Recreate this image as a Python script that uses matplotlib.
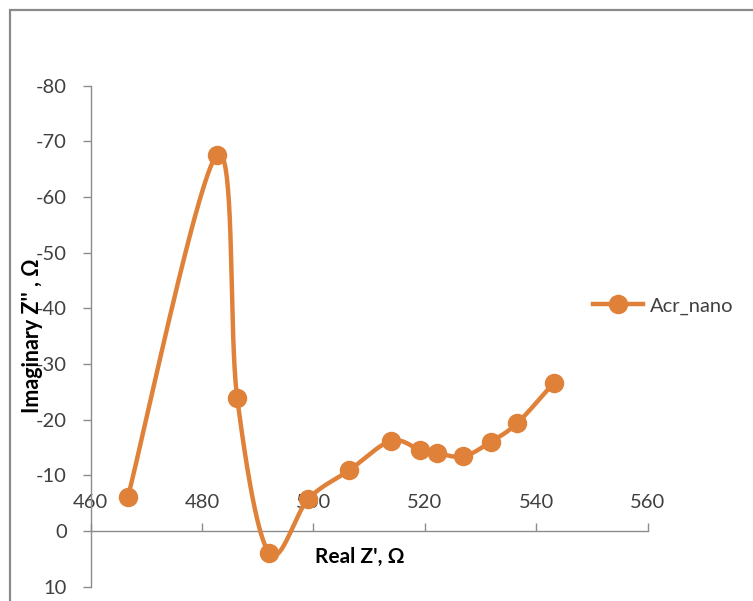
import numpy as np
import matplotlib
matplotlib.use("Agg")
import matplotlib.pyplot as plt
from matplotlib.patches import Rectangle

plt.rcParams['font.family'] = ['Lato', 'DejaVu Sans']
plt.rcParams['axes.unicode_minus'] = False

# Nyquist data (Real Z' vs Imaginary Z'')
real_z = [466.7, 482.7, 486.3, 492.0, 499.1, 506.4, 513.9, 519.1, 522.2, 526.9, 531.8, 536.6, 543.1]
imag_z = [-6.2, -67.6, -23.9, 3.9, -5.8, -10.9, -16.2, -14.6, -14.0, -13.4, -16.0, -19.4, -26.6]
series_name = "Acr_nano"

x_ticks = [460, 480, 500, 520, 540, 560]
y_ticks = [-80, -70, -60, -50, -40, -30, -20, -10, 0, 10]

orange = '#DF8139'
text_col = '#404040'
axis_col = '#8C8C8C'


def smooth_curve(xs, ys, steps=40):
    """Excel-style smoothed line: cubic Bezier segments through each point."""
    pts = np.column_stack([xs, ys]).astype(float)
    n = len(pts)
    out = []
    t = np.linspace(0, 1, steps)[:, None]
    for i in range(n - 1):
        p0 = pts[max(i - 1, 0)]
        p1 = pts[i]
        p2 = pts[i + 1]
        p3 = pts[min(i + 2, n - 1)]
        c1 = p1 + (p2 - p0) / 6.0
        c2 = p2 - (p3 - p1) / 6.0
        seg = ((1 - t) ** 3) * p1 + 3 * ((1 - t) ** 2) * t * c1 + 3 * (1 - t) * t ** 2 * c2 + t ** 3 * p2
        out.append(seg if i == 0 else seg[1:])
    out = np.vstack(out)
    return out[:, 0], out[:, 1]


W, H = 753, 601
fig = plt.figure(figsize=(W / 100, H / 100), dpi=100)

# outer chart frame (only left and top edges visible)
fig.patches.append(Rectangle((10 / W, -0.1), 1.2, 1 - 10 / H + 0.1, transform=fig.transFigure,
                             fill=False, edgecolor='#8A8A8A', linewidth=1.6))

ax = fig.add_axes([90.7 / W, 1 - 586.7 / H, 557 / W, 501 / H])

sx, sy = smooth_curve(real_z, imag_z)
ax.plot(sx, sy, color=orange, linewidth=3.2, solid_capstyle='round', zorder=3)
ax.plot(real_z, imag_z, linestyle='none', marker='o', markersize=13,
        color=orange, zorder=4)

ax.set_xlim(460, 560)
ax.set_ylim(10, -80)
ax.set_xticks(x_ticks)
ax.set_yticks(y_ticks)

for side in ['top', 'right']:
    ax.spines[side].set_visible(False)
ax.spines['bottom'].set_position(('data', 0))
ax.spines['bottom'].set_color(axis_col)
ax.spines['left'].set_color(axis_col)
ax.spines['bottom'].set_linewidth(1.0)
ax.spines['left'].set_linewidth(1.0)

ax.tick_params(axis='y', direction='out', length=6, width=1.0, color=axis_col,
               labelsize=14.5, labelcolor=text_col, pad=11)
ax.tick_params(axis='x', direction='in', length=6, width=1.0, color=axis_col,
               labelsize=14.5, labelcolor=text_col, pad=-27)

# axis titles
fig.text(360 / W, 1 - 557 / H, "Real Z', \u03a9", ha='center', va='center',
         fontsize=15, fontweight='bold', color='black')
fig.text(33 / W, 1 - 336 / H, "Imaginary Z'' , \u03a9", ha='center', va='center',
         rotation=90, fontsize=15.5, fontweight='bold', color='black')

# legend
handle, = ax.plot([], [], color=orange, linewidth=3.2, marker='o', markersize=13)
fig.legend([handle], [series_name], loc='center left',
           bbox_to_anchor=(585 / W, 1 - 306 / H), frameon=False,
           handlelength=2.5, handletextpad=0.3, borderaxespad=0,
           fontsize=14.5, labelcolor=text_col, numpoints=1)

fig.savefig('out.png', dpi=100)
